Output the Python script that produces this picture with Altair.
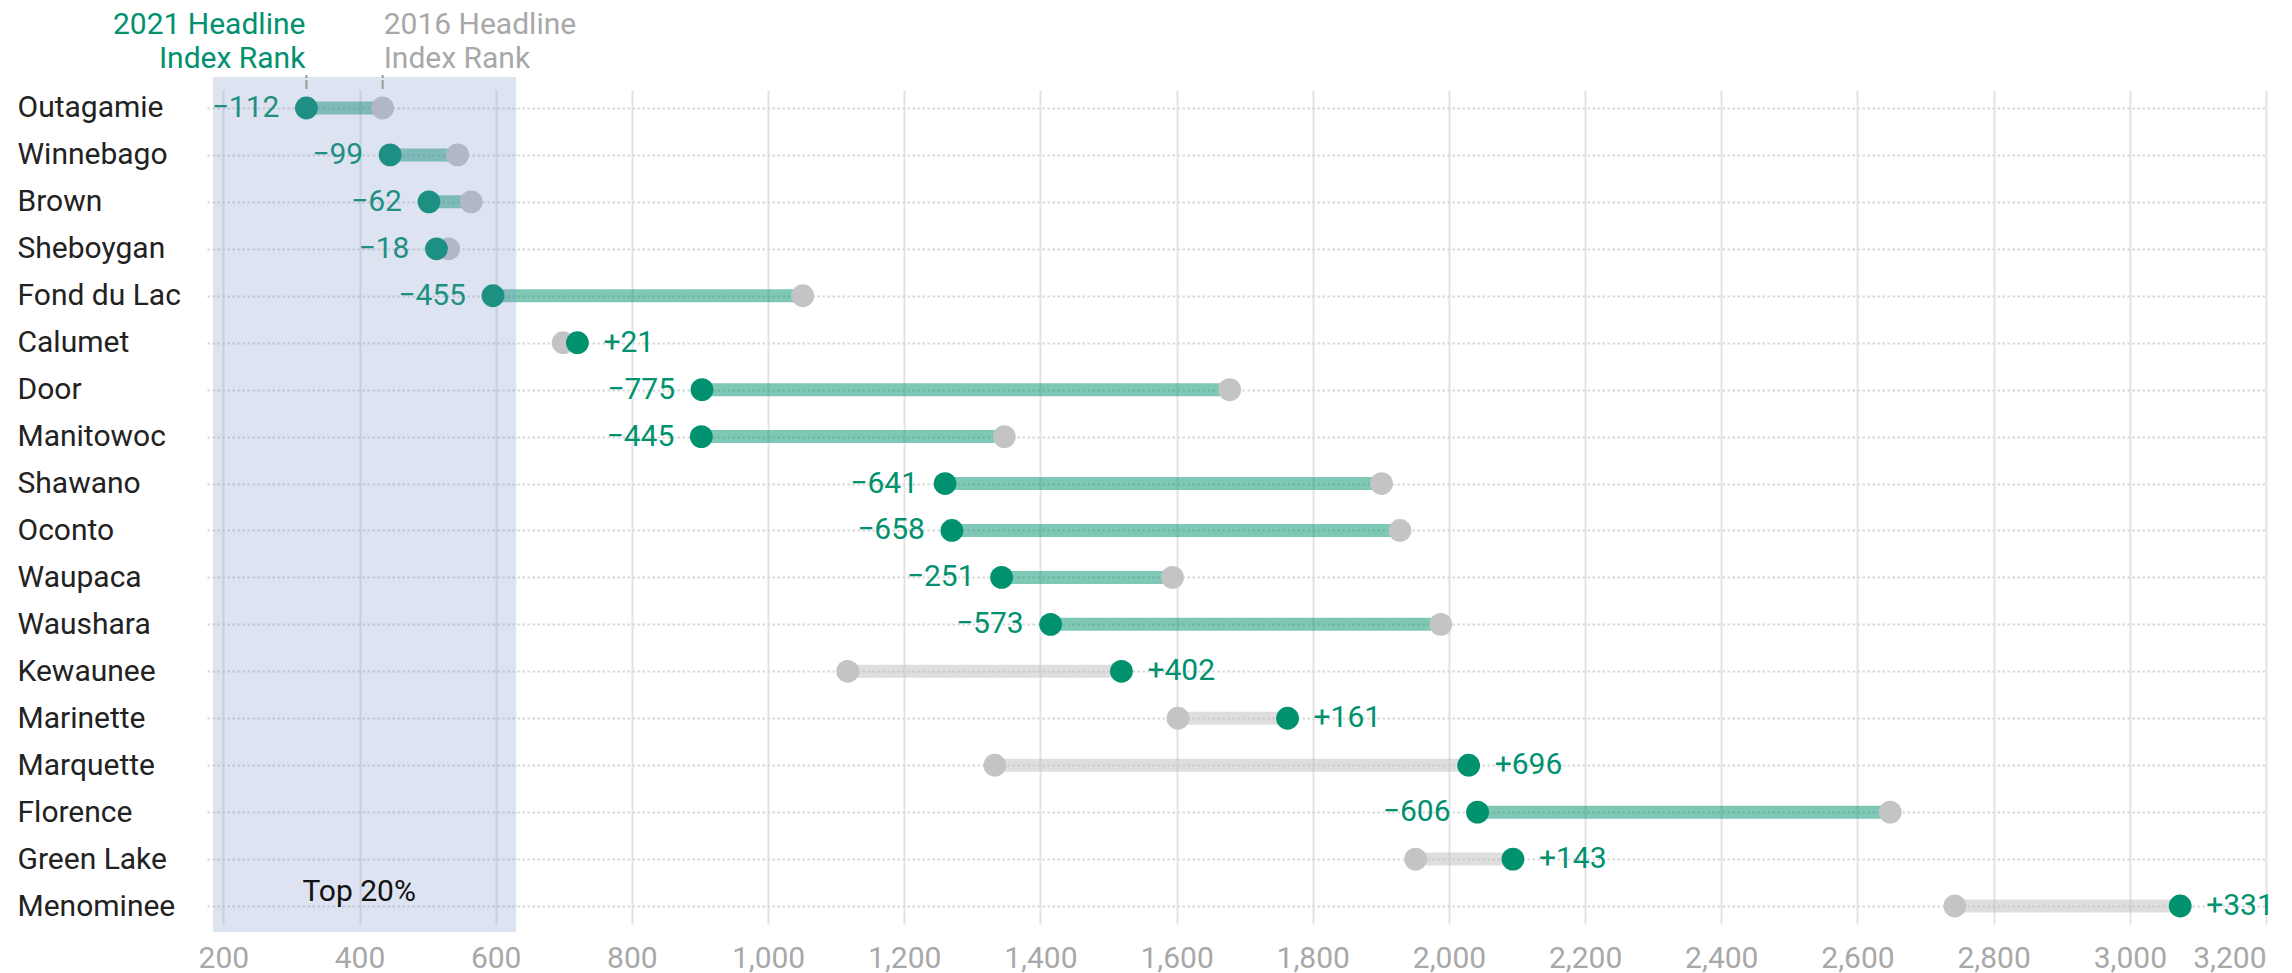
import altair as alt
import pandas as pd

counties = ["Outagamie", "Winnebago", "Brown", "Sheboygan", "Fond du Lac", "Calumet",
            "Door", "Manitowoc", "Shawano", "Oconto", "Waupaca", "Waushara",
            "Kewaunee", "Marinette", "Marquette", "Florence", "Green Lake", "Menominee"]
rank_2021 = [322, 445, 502, 513, 596, 720, 903, 902, 1260, 1270, 1343, 1415,
             1519, 1763, 2029, 2042, 2094, 3074]
rank_2016 = [434, 544, 564, 531, 1051, 699, 1678, 1347, 1901, 1928, 1594, 1988,
             1117, 1602, 1333, 2648, 1951, 2743]
x_ticks = list(range(200, 3201, 200))
x_domain = [176, 3200]
top20 = [185, 630]

GREEN = "#00916e"
GREY_DOT = "#c4c4c4"
GREY_BAR = "#bdbdbd"
FONT = "Roboto"
FS = 30

rows = []
for c, a, b in zip(counties, rank_2021, rank_2016):
    d = a - b
    rows.append({"county": c, "r2021": a, "r2016": b, "diff": d,
                 "label": ("+" + str(d)) if d > 0 else ("\u2212" + str(-d))})
df = pd.DataFrame(rows)

W, H = 2059, 834

xs = alt.Scale(domain=x_domain, nice=False, zero=False)
ys = alt.Scale(type="point", domain=counties, padding=0.383)

base = alt.Chart(df)

y_enc = alt.Y("county:N", sort=counties, scale=ys, title=None,
              axis=alt.Axis(grid=True, gridDash=[2.5, 2.5], gridColor="#d8d8d8", gridWidth=2,
                            domain=False, ticks=False, labelAlign="left", labelPadding=190,
                            labelFontSize=FS, labelColor="#222222", labelFont=FONT,
                            labelBaseline="middle"))

bars = base.mark_rule(strokeWidth=13, opacity=0.5).encode(
    x=alt.X("r2021:Q", scale=xs, title=None,
            axis=alt.Axis(values=x_ticks, format=",d", grid=True, gridColor="#e3e3e3", gridWidth=2,
                          domain=False, ticks=False, labelFontSize=FS, labelColor="#a8a8a8",
                          labelFont=FONT, labelPadding=19, labelFlush=10)),
    x2="r2016:Q",
    y=y_enc,
    color=alt.condition("datum.diff < 0", alt.value(GREEN), alt.value(GREY_BAR)),
)

dots16 = base.mark_circle(size=520, opacity=1, color=GREY_DOT).encode(
    x=alt.X("r2016:Q", scale=xs), y=alt.Y("county:N", sort=counties, scale=ys))
dots21 = base.mark_circle(size=520, opacity=1, color=GREEN).encode(
    x=alt.X("r2021:Q", scale=xs), y=alt.Y("county:N", sort=counties, scale=ys))

lab_neg = base.transform_filter("datum.diff < 0").mark_text(
    align="right", baseline="middle", dx=-27, fontSize=FS, font=FONT, color=GREEN).encode(
    x=alt.X("r2021:Q", scale=xs), y=alt.Y("county:N", sort=counties, scale=ys), text="label:N")
lab_pos = base.transform_filter("datum.diff > 0").mark_text(
    align="left", baseline="middle", dx=26, fontSize=FS, font=FONT, color=GREEN).encode(
    x=alt.X("r2021:Q", scale=xs), y=alt.Y("county:N", sort=counties, scale=ys), text="label:N")

shade_df = pd.DataFrame({"x": [top20[0]], "x2": [top20[1]]})
shade = alt.Chart(shade_df).mark_rect(color="#7890c4", opacity=0.25).encode(
    x=alt.X("x:Q", scale=xs), x2="x2:Q", y=alt.value(-13), y2=alt.value(H + 8))

top_df = pd.DataFrame({"x": [(top20[0] + top20[1]) / 2 - 8], "county": ["Menominee"], "t": ["Top 20%"]})
top_txt = alt.Chart(top_df).mark_text(fontSize=FS, font=FONT, color="#111111", baseline="middle",
                                      dy=-14).encode(
    x=alt.X("x:Q", scale=xs), y=alt.Y("county:N", sort=counties, scale=ys), text="t:N")

first = df.iloc[[0]]
hdr21a = alt.Chart(first).mark_text(text="2021 Headline", align="right", baseline="middle",
                                    fontSize=FS, font=FONT, color=GREEN, dx=-1).encode(
    x=alt.X("r2021:Q", scale=xs), y=alt.value(-65))
hdr21b = alt.Chart(first).mark_text(text="Index Rank", align="right", baseline="middle",
                                    fontSize=FS, font=FONT, color=GREEN, dx=-1).encode(
    x=alt.X("r2021:Q", scale=xs), y=alt.value(-31))
hdr16a = alt.Chart(first).mark_text(text="2016 Headline", align="left", baseline="middle",
                                    fontSize=FS, font=FONT, color="#a8a8a8", dx=1).encode(
    x=alt.X("r2016:Q", scale=xs), y=alt.value(-65))
hdr16b = alt.Chart(first).mark_text(text="Index Rank", align="left", baseline="middle",
                                    fontSize=FS, font=FONT, color="#a8a8a8", dx=1).encode(
    x=alt.X("r2016:Q", scale=xs), y=alt.value(-31))
tick21 = alt.Chart(first).mark_rule(color="#9a9a9a", strokeWidth=2, strokeDash=[3, 2, 10, 2]).encode(
    x=alt.X("r2021:Q", scale=xs), y=alt.value(-15), y2=alt.value(-1))
tick16 = alt.Chart(first).mark_rule(color="#9a9a9a", strokeWidth=2, strokeDash=[3, 2, 10, 2]).encode(
    x=alt.X("r2016:Q", scale=xs), y=alt.value(-15), y2=alt.value(-1))

chart = alt.layer(
    bars, dots16, dots21, lab_neg, lab_pos, shade, top_txt,
    hdr21a, hdr21b, hdr16a, hdr16b, tick21, tick16
).properties(
    width=W, height=H,
    padding={"left": 9, "top": 2, "right": 5, "bottom": 0},
    background="white",
).configure_view(stroke=None)

chart.save("out.html", embed_options={"renderer": "svg", "actions": False})
